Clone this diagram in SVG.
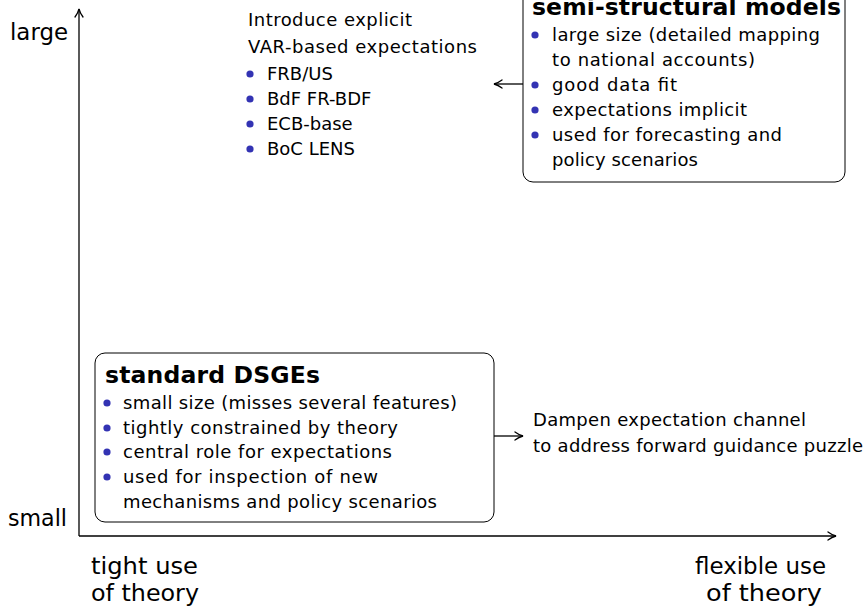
<svg xmlns="http://www.w3.org/2000/svg" width="865" height="606" viewBox="0 0 865 606">
  <style>
    text { font-family: "DejaVu Sans", "Liberation Sans", sans-serif; fill: #000; }
    .ax { font-size: 23px; }
    .body { font-size: 18px; }
    .title { font-size: 23.5px; font-weight: bold; }
    .box { fill: #fff; stroke: #000; stroke-width: 1; }
    .bul { fill: #3333b3; }
    .line { stroke: #000; stroke-width: 1.3; fill: none; }
  </style>
  <defs>
    <marker id="tip" viewBox="0 0 10 10" refX="9" refY="5" markerWidth="10" markerHeight="10" markerUnits="userSpaceOnUse" orient="auto">
      <path d="M1,1 Q5,4 9,5 Q5,6 1,9" fill="none" stroke="#000" stroke-width="1.3" stroke-linecap="round"/>
    </marker>
  </defs>

  <!-- axes -->
  <g id="axes">
    <line class="line" x1="79" y1="536" x2="79" y2="9" marker-end="url(#tip)"/>
    <line class="line" x1="79" y1="536" x2="836" y2="536" marker-end="url(#tip)"/>
    <text class="ax" x="10" y="40" textLength="58" lengthAdjust="spacingAndGlyphs">large</text>
    <text class="ax" x="8" y="526" textLength="59" lengthAdjust="spacingAndGlyphs">small</text>
    <text class="ax" x="91" y="574" textLength="107" lengthAdjust="spacingAndGlyphs">tight use</text>
    <text class="ax" x="91" y="601" textLength="108" lengthAdjust="spacingAndGlyphs">of theory</text>
    <text class="ax" x="695" y="574" textLength="131" lengthAdjust="spacingAndGlyphs">flexible use</text>
    <text class="ax" x="706" y="601" textLength="116" lengthAdjust="spacingAndGlyphs">of theory</text>
  </g>

  <!-- connectors -->
  <g id="connectors">
    <line class="line" x1="523" y1="84" x2="494" y2="84" marker-end="url(#tip)"/>
    <line class="line" x1="494" y1="436" x2="523" y2="436" marker-end="url(#tip)"/>
  </g>

  <!-- VAR-based expectations note -->
  <g id="var-note">
    <text class="body" x="248" y="26" textLength="164" lengthAdjust="spacing">Introduce explicit</text>
    <text class="body" x="248" y="53" textLength="229" lengthAdjust="spacing">VAR-based expectations</text>
    <circle class="bul" cx="250" cy="74" r="3.6"/>
    <text class="body" x="267" y="80">FRB/US</text>
    <circle class="bul" cx="250" cy="99" r="3.6"/>
    <text class="body" x="267" y="105">BdF FR-BDF</text>
    <circle class="bul" cx="250" cy="124" r="3.6"/>
    <text class="body" x="267" y="130">ECB-base</text>
    <circle class="bul" cx="250" cy="149" r="3.6"/>
    <text class="body" x="267" y="155">BoC LENS</text>
  </g>

  <!-- semi-structural models -->
  <g id="semi-structural">
    <rect class="box" x="523" y="-20" width="322" height="202" rx="10"/>
    <text class="title" x="532" y="15" textLength="309" lengthAdjust="spacing">semi-structural models</text>
    <circle class="bul" cx="535" cy="35" r="3.6"/>
    <text class="body" x="552" y="41" textLength="268" lengthAdjust="spacing">large size (detailed mapping</text>
    <text class="body" x="552" y="66" textLength="203" lengthAdjust="spacing">to national accounts)</text>
    <circle class="bul" cx="535" cy="85" r="3.6"/>
    <text class="body" x="552" y="91" textLength="125" lengthAdjust="spacing">good data fit</text>
    <circle class="bul" cx="535" cy="110" r="3.6"/>
    <text class="body" x="552" y="116" textLength="195" lengthAdjust="spacing">expectations implicit</text>
    <circle class="bul" cx="535" cy="135" r="3.6"/>
    <text class="body" x="552" y="141" textLength="230" lengthAdjust="spacing">used for forecasting and</text>
    <text class="body" x="552" y="166" textLength="146" lengthAdjust="spacing">policy scenarios</text>
  </g>

  <!-- standard DSGEs -->
  <g id="dsge">
    <rect class="box" x="95" y="353" width="399" height="169" rx="10"/>
    <text class="title" x="105" y="383" textLength="215" lengthAdjust="spacing">standard DSGEs</text>
    <circle class="bul" cx="107" cy="403" r="3.6"/>
    <text class="body" x="123" y="409" textLength="334" lengthAdjust="spacing">small size (misses several features)</text>
    <circle class="bul" cx="107" cy="428" r="3.6"/>
    <text class="body" x="123" y="434" textLength="275" lengthAdjust="spacing">tightly constrained by theory</text>
    <circle class="bul" cx="107" cy="452" r="3.6"/>
    <text class="body" x="123" y="458" textLength="269" lengthAdjust="spacing">central role for expectations</text>
    <circle class="bul" cx="107" cy="477" r="3.6"/>
    <text class="body" x="123" y="483" textLength="255" lengthAdjust="spacing">used for inspection of new</text>
    <text class="body" x="123" y="508" textLength="314" lengthAdjust="spacing">mechanisms and policy scenarios</text>
  </g>

  <!-- forward guidance note -->
  <g id="fg-note">
    <text class="body" x="533" y="426" textLength="273" lengthAdjust="spacing">Dampen expectation channel</text>
    <text class="body" x="533" y="452" textLength="330" lengthAdjust="spacing">to address forward guidance puzzle</text>
  </g>
</svg>
